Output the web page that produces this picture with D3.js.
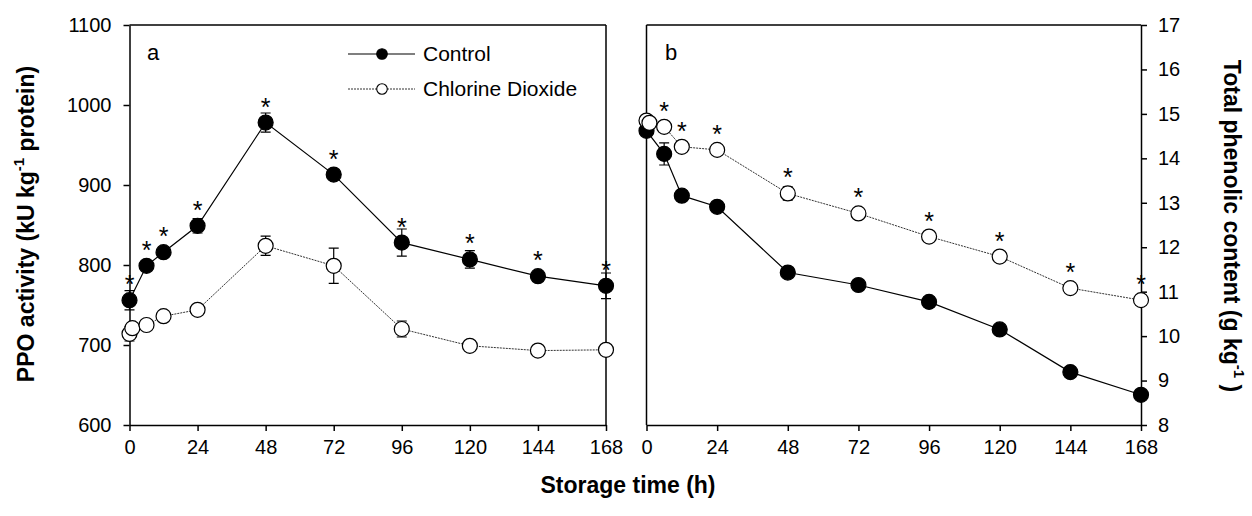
<!DOCTYPE html>
<html>
<head>
<meta charset="utf-8">
<style>
    body { margin: 0; background: #fff; }
    svg { display: block; font-family: "Liberation Sans", Arial, sans-serif; }
    .axis path, .axis line { stroke: #000; stroke-width: 1.5px; }
    .axis text { font-size: 20px; fill: #000; }
    .frame { stroke: #000; stroke-width: 1.5px; }
    .title { font-size: 23px; font-weight: bold; }
</style>
</head>
<body>
<svg width="1252" height="516"></svg>
<script src="https://d3js.org/d3.v7.min.js"></script>
<script>

    // storage times (h)
    var hours = [0, 6, 12, 24, 48, 72, 96, 120, 144, 168],
        clo2Hours = [0, 1, 6, 12, 24, 48, 72, 96, 120, 144, 168],
        xTicks = [0, 24, 48, 72, 96, 120, 144, 168];

    // panel a: PPO activity
    var ppoControl = [756, 799, 816, 849, 978, 913, 828, 807, 786, 774],
        ppoControlErr = [12, 4, 4, 9, 12, 5, 17, 11, 6, 16],
        ppoClo2 = [714, 721, 725, 736, 744, 824, 799, 720, 699, 693, 694],
        ppoClo2Err = [9, 4, 3, 4, 4, 12, 22, 10, 3, 3, 3],
        ppoSig = [0, 6, 12, 24, 48, 72, 96, 120, 144, 168],
        ppoTicks = [600, 700, 800, 900, 1000, 1100];

    // panel b: total phenolic content
    var phControl = [14.62, 14.10, 13.16, 12.91, 11.43, 11.15, 10.77, 10.15, 9.19, 8.68],
        phControlErr = [0.1, 0.25, 0.12, 0.08, 0.06, 0.06, 0.06, 0.06, 0.06, 0.06],
        phClo2 = [14.85, 14.80, 14.71, 14.26, 14.19, 13.21, 12.76, 12.24, 11.79, 11.08, 10.81],
        phClo2Err = [0.08, 0.05, 0.05, 0.05, 0.05, 0.15, 0.05, 0.05, 0.05, 0.12, 0.05],
        phSig = [6, 12, 24, 48, 72, 96, 120, 144, 168],
        phTicks = [8, 9, 10, 11, 12, 13, 14, 15, 16, 17];

    var seriesNames = ["Control", "Chlorine Dioxide"];

    var svg = d3.select("svg"),
        plotTop = 25, plotBottom = 425,
        fmt = d3.format("d");

    var xa = d3.scaleLinear().domain([0, 168]).range([129.5, 606]),
        ya = d3.scaleLinear().domain([600, 1100]).range([plotBottom, plotTop]),
        xb = d3.scaleLinear().domain([0, 168]).range([646.5, 1141]),
        yb = d3.scaleLinear().domain([8, 17]).range([plotBottom, plotTop]);

    function zip(t, v, e) {
        return t.map(function (d, i) { return { t: d, v: v[i], e: e[i] }; });
    }

    function drawSeries(g, x, y, data, filled) {
        var line = d3.line().x(function (d) { return x(d.t); }).y(function (d) { return y(d.v); });
        g.append("path").datum(data)
            .attr("d", line)
            .attr("fill", "none")
            .attr("stroke", filled ? "#000" : "#333")
            .attr("stroke-width", filled ? 1.2 : 1)
            .attr("stroke-dasharray", filled ? null : "2,1");

        var eb = g.append("g").attr("stroke", "#000").attr("stroke-width", 1.2);
        eb.selectAll(".eb").data(data).enter().append("path")
            .attr("fill", "none")
            .attr("d", function (d) {
                var cx = x(d.t), y1 = y(d.v + d.e), y2 = y(d.v - d.e);
                return "M" + (cx - 5) + "," + y1 + "H" + (cx + 5) +
                    "M" + cx + "," + y1 + "V" + y2 +
                    "M" + (cx - 5) + "," + y2 + "H" + (cx + 5);
            });

        g.append("g").selectAll("circle").data(data).enter().append("circle")
            .attr("cx", function (d) { return x(d.t); })
            .attr("cy", function (d) { return y(d.v); })
            .attr("r", 7.5)
            .attr("fill", filled ? "#000" : "#fff")
            .attr("stroke", "#000")
            .attr("stroke-width", 1.2);
    }

    function drawStars(g, x, y, data, sig) {
        g.append("g").selectAll("text").data(data.filter(function (d) { return sig.indexOf(d.t) >= 0; }))
            .enter().append("text")
            .attr("x", function (d) { return x(d.t); })
            .attr("y", function (d) { return y(d.v) - 7; })
            .attr("text-anchor", "middle")
            .style("font-size", "25px")
            .text("*");
    }

    // ---- panel a ----
    var ga = svg.append("g");
    ga.append("line").attr("class", "frame").attr("x1", xa(0)).attr("x2", xa(168)).attr("y1", plotTop).attr("y2", plotTop);
    ga.append("line").attr("class", "frame").attr("x1", xa(168)).attr("x2", xa(168)).attr("y1", plotTop).attr("y2", plotBottom);

    ga.append("g").attr("class", "axis")
        .attr("transform", "translate(0," + plotBottom + ")")
        .call(d3.axisBottom(xa).tickValues(xTicks).tickFormat(fmt).tickSize(6).tickPadding(9).tickSizeOuter(0));
    ga.append("g").attr("class", "axis")
        .attr("transform", "translate(" + xa(0) + ",0)")
        .call(d3.axisLeft(ya).tickValues(ppoTicks).tickFormat(fmt).tickSize(6).tickPadding(12).tickSizeOuter(0));

    var ctlA = zip(hours, ppoControl, ppoControlErr),
        cloA = zip(clo2Hours, ppoClo2, ppoClo2Err);
    drawSeries(ga, xa, ya, ctlA, true);
    drawSeries(ga, xa, ya, cloA, false);
    drawStars(ga, xa, ya, ctlA, ppoSig);

    ga.append("text").attr("x", 147).attr("y", 60).style("font-size", "22px").text("a");

    // legend
    var leg = ga.append("g");
    seriesNames.forEach(function (name, i) {
        var ly = 54 + i * 35;
        leg.append("line").attr("x1", 348).attr("x2", 415).attr("y1", ly).attr("y2", ly)
            .attr("stroke", i ? "#333" : "#000").attr("stroke-width", i ? 1 : 1.2)
            .attr("stroke-dasharray", i ? "2,1" : null);
        leg.append("circle").attr("cx", 382).attr("cy", ly).attr("r", 5.3)
            .attr("fill", i ? "#fff" : "#000").attr("stroke", "#000").attr("stroke-width", 1.1);
        leg.append("text").attr("x", 423).attr("y", ly).attr("dy", "0.35em")
            .style("font-size", "21px").text(name);
    });

    // ---- panel b ----
    var gb = svg.append("g");
    gb.append("line").attr("class", "frame").attr("x1", xb(0)).attr("x2", xb(168)).attr("y1", plotTop).attr("y2", plotTop);
    gb.append("line").attr("class", "frame").attr("x1", xb(0)).attr("x2", xb(0)).attr("y1", plotTop).attr("y2", plotBottom);

    gb.append("g").attr("class", "axis")
        .attr("transform", "translate(0," + plotBottom + ")")
        .call(d3.axisBottom(xb).tickValues(xTicks).tickFormat(fmt).tickSize(6).tickPadding(9).tickSizeOuter(0));
    gb.append("g").attr("class", "axis")
        .attr("transform", "translate(" + xb(168) + ",0)")
        .call(d3.axisRight(yb).tickValues(phTicks).tickFormat(fmt).tickSize(6).tickPadding(11).tickSizeOuter(0));

    var ctlB = zip(hours, phControl, phControlErr),
        cloB = zip(clo2Hours, phClo2, phClo2Err);
    drawSeries(gb, xb, yb, ctlB, true);
    drawSeries(gb, xb, yb, cloB, false);
    drawStars(gb, xb, yb, cloB, phSig);

    gb.append("text").attr("x", 665).attr("y", 60).style("font-size", "22px").text("b");

    // ---- axis titles ----
    var tl = svg.append("text").attr("class", "title")
        .attr("transform", "translate(34,224) rotate(-90)")
        .attr("text-anchor", "middle");
    tl.append("tspan").text("PPO activity (kU kg");
    tl.append("tspan").attr("dy", -10).style("font-size", "15px").text("-1");
    tl.append("tspan").attr("dy", 10).text("  protein)");

    var tr = svg.append("text").attr("class", "title")
        .attr("transform", "translate(1224,226) rotate(90)")
        .attr("text-anchor", "middle");
    tr.append("tspan").text("Total phenolic content (g kg");
    tr.append("tspan").attr("dy", -10).style("font-size", "15px").text("-1");
    tr.append("tspan").attr("dy", 10).text(" )");

    svg.append("text").attr("class", "title")
        .attr("x", 628).attr("y", 493)
        .attr("text-anchor", "middle")
        .text("Storage time (h)");

</script>
</body>
</html>
